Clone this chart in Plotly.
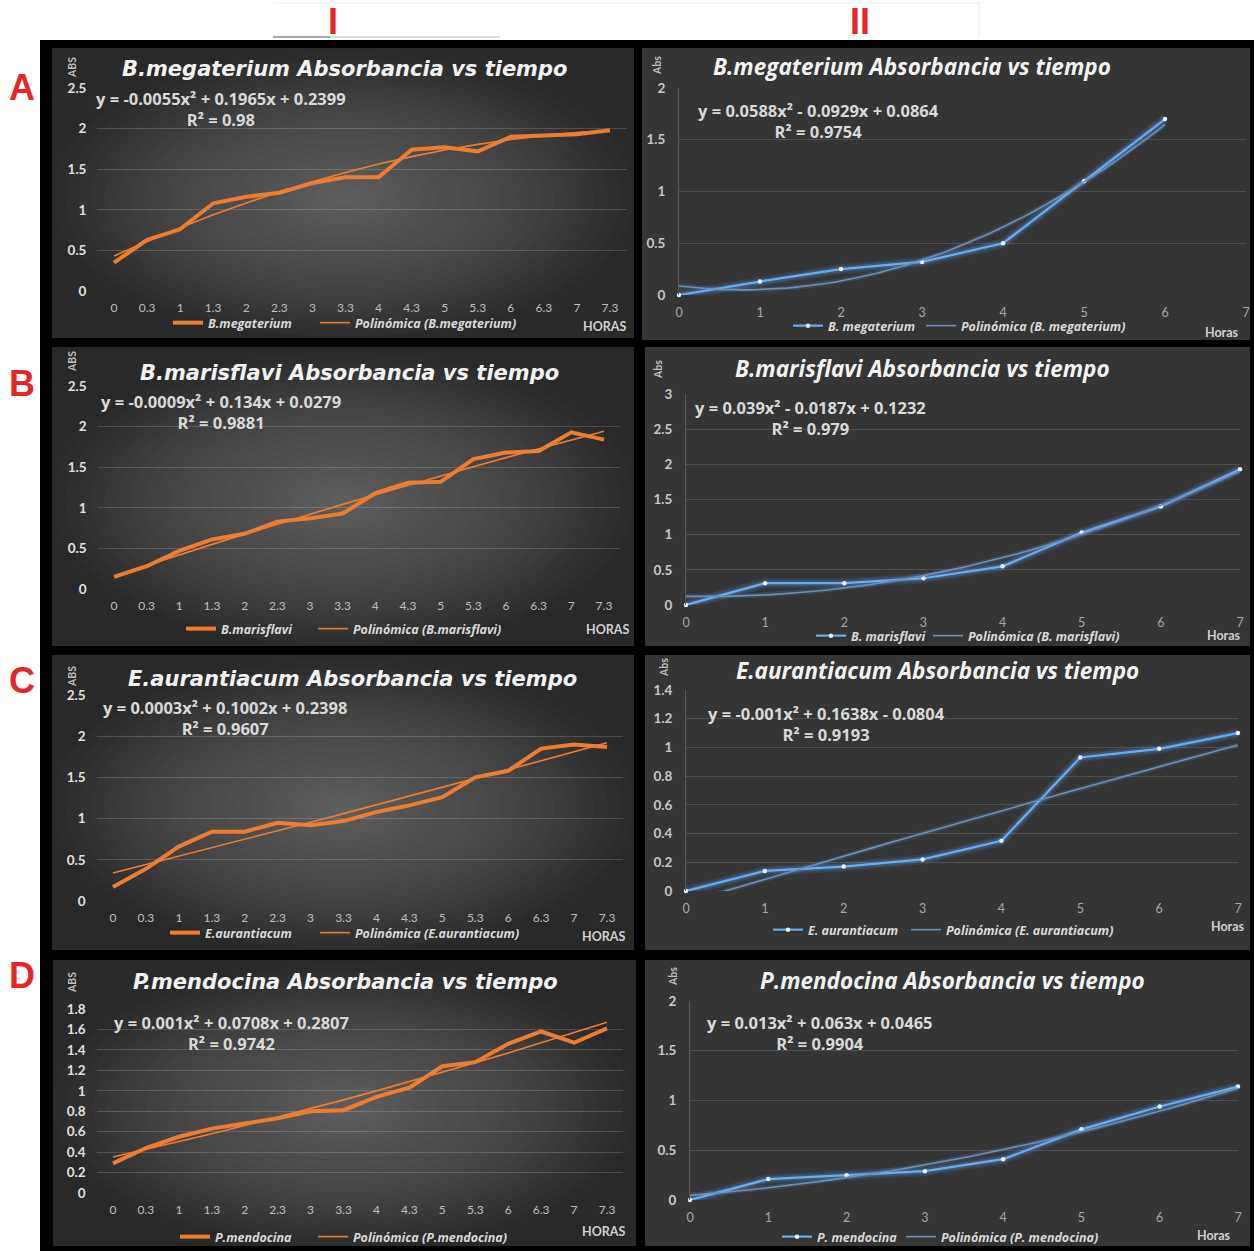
import numpy as np
import plotly.graph_objects as go

W, H = 1254, 1251

# ---------------- data ----------------
horas_cat = ["0", "0.3", "1", "1.3", "2", "2.3", "3", "3.3", "4", "4.3", "5", "5.3", "6", "6.3", "7", "7.3"]

megaterium_I = [0.35, 0.63, 0.76, 1.08, 1.16, 1.21, 1.33, 1.40, 1.40, 1.74, 1.77, 1.72, 1.90, 1.92, 1.93, 1.98]
marisflavi_I = [0.15, 0.28, 0.47, 0.61, 0.68, 0.83, 0.87, 0.93, 1.18, 1.31, 1.32, 1.60, 1.68, 1.70, 1.93, 1.84]
aurantiacum_I = [0.17, 0.39, 0.66, 0.84, 0.84, 0.95, 0.92, 0.97, 1.08, 1.16, 1.26, 1.50, 1.58, 1.85, 1.90, 1.87]
mendocina_I = [0.29, 0.44, 0.55, 0.63, 0.68, 0.73, 0.80, 0.81, 0.94, 1.03, 1.24, 1.28, 1.46, 1.58, 1.47, 1.61]

fit_megaterium_I = [-0.0055, 0.1965, 0.2399]
fit_marisflavi_I = [-0.0009, 0.134, 0.0279]
fit_aurantiacum_I = [0.0003, 0.1002, 0.2398]
fit_mendocina_I = [0.001, 0.0708, 0.2807]

horas_II = [0, 1, 2, 3, 4, 5, 6, 7]
megaterium_II = [0.0, 0.13, 0.25, 0.32, 0.50, 1.10, 1.70]
marisflavi_II = [0.0, 0.31, 0.31, 0.38, 0.55, 1.03, 1.40, 1.93]
aurantiacum_II = [0.0, 0.14, 0.17, 0.22, 0.35, 0.93, 0.99, 1.10]
mendocina_II = [0.0, 0.21, 0.25, 0.29, 0.41, 0.71, 0.94, 1.14]

fit_megaterium_II = [0.0588, -0.0929, 0.0864]
fit_marisflavi_II = [0.039, -0.0187, 0.1232]
fit_aurantiacum_II = [-0.001, 0.1638, -0.0804]
fit_mendocina_II = [0.013, 0.063, 0.0465]

eq_texts = [
    "y = -0.0055x² + 0.1965x + 0.2399", "y = 0.0588x² - 0.0929x + 0.0864",
    "y = -0.0009x² + 0.134x + 0.0279", "y = 0.039x² - 0.0187x + 0.1232",
    "y = 0.0003x² + 0.1002x + 0.2398", "y = -0.001x² + 0.1638x - 0.0804",
    "y = 0.001x² + 0.0708x + 0.2807", "y = 0.013x² + 0.063x + 0.0465",
]
r2_texts = ["R² = 0.98", "R² = 0.9754", "R² = 0.9881", "R² = 0.979",
            "R² = 0.9607", "R² = 0.9193", "R² = 0.9742", "R² = 0.9904"]
titles = [
    "B.megaterium Absorbancia vs tiempo", "B.megaterium Absorbancia vs tiempo",
    "B.marisflavi Absorbancia vs tiempo", "B.marisflavi Absorbancia vs tiempo",
    "E.aurantiacum Absorbancia vs tiempo", "E.aurantiacum Absorbancia vs tiempo",
    "P.mendocina Absorbancia vs tiempo", "P.mendocina Absorbancia vs tiempo",
]
names_I = ["B.megaterium", "B.marisflavi", "E.aurantiacum", "P.mendocina"]
names_II = ["B. megaterium", "B. marisflavi", "E. aurantiacum", "P. mendocina"]
row_letters = ["A", "B", "C", "D"]
col_labels = ["I", "II"]

series_I = [megaterium_I, marisflavi_I, aurantiacum_I, mendocina_I]
fits_I = [fit_megaterium_I, fit_marisflavi_I, fit_aurantiacum_I, fit_mendocina_I]
series_II = [megaterium_II, marisflavi_II, aurantiacum_II, mendocina_II]
fits_II = [fit_megaterium_II, fit_marisflavi_II, fit_aurantiacum_II, fit_mendocina_II]

# ---------------- layout geometry (pixels) ----------------
def fx(px):
    return px / W

def fy(py):
    return 1 - py / H

left_cfg = [
    dict(bg=(52, 48, 634, 338), x0=114, x1=610, y0=291, yt=88, yr=[0, 2.5], dt=0.5,
         title=(344, 69), eq=(221, 99), r2=119, abs=(72, 68), horas=(604, 326), leg=(170, 323), ew=147),
    dict(bg=(52, 347, 634, 646), x0=114, x1=604, y0=589, yt=386, yr=[0, 2.5], dt=0.5,
         title=(349, 373), eq=(221, 402), r2=422, abs=(72, 362), horas=(607, 629), leg=(183, 629), ew=132),
    dict(bg=(52, 655, 634, 950), x0=113, x1=607, y0=901, yt=695, yr=[0, 2.5], dt=0.5,
         title=(352, 679), eq=(225, 707), r2=728, abs=(72, 677), horas=(603, 936), leg=(167, 933), ew=150),
    dict(bg=(53, 960, 636, 1246), x0=113, x1=607, y0=1193, yt=1009, yr=[0, 1.8], dt=0.2,
         title=(345, 982), eq=(231, 1022), r2=1043, abs=(72, 983), horas=(603, 1231), leg=(177, 1237), ew=138),
]
right_cfg = [
    dict(bg=(642, 48, 1250, 340), x0=679, x1=1246, y0=295, yt=88, yr=[0, 2], dt=0.5,
         title=(912, 66), eq=(818, 111), r2=131, abs=(657, 66), horas=(1222, 332), leg=(790, 326), ew=133),
    dict(bg=(645, 347, 1250, 646), x0=686, x1=1240, y0=605, yt=394, yr=[0, 3], dt=0.5,
         title=(922, 369), eq=(811, 408), r2=429, abs=(658, 370), horas=(1224, 635), leg=(813, 636), ew=117),
    dict(bg=(645, 655, 1250, 950), x0=686, x1=1238, y0=891, yt=690, yr=[0, 1.4], dt=0.2,
         title=(937, 670), eq=(826, 713), r2=734, abs=(664, 667), horas=(1228, 926), leg=(770, 930), ew=138),
    dict(bg=(645, 960, 1250, 1246), x0=690, x1=1238, y0=1200, yt=1001, yr=[0, 2], dt=0.5,
         title=(952, 980), eq=(820, 1022), r2=1043, abs=(673, 977), horas=(1214, 1235), leg=(779, 1237), ew=124),
]

ORANGE = "#ED7D31"
BLUE = "#6aaef0"
FONT = "Lato"
WIDE = "Open Sans"

fig = go.Figure()
shapes = []
annotations = []
layout_axes = {}
legends = {}

# black frame
shapes.append(dict(type="rect", xref="paper", yref="paper", x0=fx(40), x1=fx(1254), y0=fy(1251), y1=fy(40),
                   fillcolor="#000000", line=dict(width=0), layer="below"))
# header lines
shapes.append(dict(type="line", xref="paper", yref="paper", x0=fx(274), x1=fx(980), y0=fy(3), y1=fy(3),
                   line=dict(color="#ececec", width=1), layer="below"))
shapes.append(dict(type="line", xref="paper", yref="paper", x0=fx(979), x1=fx(979), y0=fy(3), y1=fy(37),
                   line=dict(color="#ececec", width=1), layer="below"))
shapes.append(dict(type="line", xref="paper", yref="paper", x0=fx(273), x1=fx(330), y0=fy(37), y1=fy(37),
                   line=dict(color="#8a8a8a", width=1.5), layer="below"))
shapes.append(dict(type="line", xref="paper", yref="paper", x0=fx(330), x1=fx(500), y0=fy(37), y1=fy(37),
                   line=dict(color="#d0d0d0", width=1.5), layer="below"))


def legend_style(xpx, ypx):
    return dict(x=fx(xpx - 2), y=fy(ypx), xanchor="left", yanchor="middle", visible=True,
                orientation="h", bgcolor="rgba(0,0,0,0)", borderwidth=0, itemwidth=30,
                font=dict(family=WIDE, size=12.5, color="#d9d9d9", weight="bold", style="italic"))


panel_index = 0
for r in range(4):
    for c in range(2):
        panel_index += 1
        i = panel_index
        cfg = left_cfg[r] if c == 0 else right_cfg[r]
        xa = "xaxis" if i == 1 else f"xaxis{i}"
        ya = "yaxis" if i == 1 else f"yaxis{i}"
        xr = "x" if i == 1 else f"x{i}"
        yr = "y" if i == 1 else f"y{i}"
        n1 = 2 * i - 1
        n2 = 2 * i
        lg1 = "legend" if n1 == 1 else f"legend{n1}"
        lg2 = f"legend{n2}"
        bx0, by0, bx1, by1 = cfg["bg"]

        if c == 0:
            # radial-looking gradient background
            shapes.append(dict(type="rect", xref="paper", yref="paper", x0=fx(bx0), x1=fx(bx1),
                               y0=fy(by1), y1=fy(by0), fillcolor="#292929", line=dict(width=0), layer="below"))
            cx, cy = (bx0 + bx1) / 2, (by0 + by1) / 2 + 5
            hw, hh = (bx1 - bx0) / 2 * 1.0, (by1 - by0) / 2 * 1.0
            n = 22
            for k in range(n):
                f = 1 - k / n
                shapes.append(dict(type="circle", xref="paper", yref="paper",
                                   x0=fx(cx - hw * f), x1=fx(cx + hw * f),
                                   y0=fy(min(by1, cy + hh * f)), y1=fy(max(by0, cy - hh * f)),
                                   fillcolor="rgba(255,255,255,0.015)", line=dict(width=0), layer="below"))
            sp = (cfg["x1"] - cfg["x0"]) / 15
            xdom = [fx(cfg["x0"] - sp / 2), fx(cfg["x1"] + sp / 2)]
        else:
            shapes.append(dict(type="rect", xref="paper", yref="paper", x0=fx(bx0), x1=fx(bx1),
                               y0=fy(by1), y1=fy(by0), fillcolor="#353535", line=dict(width=0), layer="below"))
            xdom = [fx(cfg["x0"]), fx(cfg["x1"])]
        ydom = [fy(cfg["y0"]), fy(cfg["yt"])]

        if c == 0:
            layout_axes[xa] = dict(domain=xdom, anchor=yr, type="category", range=[-0.5, 15.5],
                                   showgrid=False, zeroline=False, showline=False, ticks="",
                                   ticklabelstandoff=8,
                                   tickfont=dict(family=FONT, size=12, color="#bfbfbf"))
            layout_axes[ya] = dict(domain=ydom, anchor=xr, range=cfg["yr"], dtick=cfg["dt"],
                                   showgrid=True, gridcolor="rgba(255,255,255,0.16)", gridwidth=1,
                                   zeroline=False, showline=False, ticks="", ticklabelstandoff=10,
                                   tickfont=dict(family=FONT, size=13.5, color="#e0e0e0", weight="bold"))
            ys = series_I[r]
            a2, a1, a0 = fits_I[r]
            idx = np.arange(1, len(horas_cat) + 1)
            trend = a2 * idx ** 2 + a1 * idx + a0
            fig.add_trace(go.Scatter(x=horas_cat, y=ys, mode="lines", name=names_I[r], showlegend=True,
                                     line=dict(color=ORANGE, width=4), xaxis=xr, yaxis=yr, legend=lg1))
            fig.add_trace(go.Scatter(x=horas_cat, y=trend, mode="lines", showlegend=True,
                                     name=f"Polinómica ({names_I[r]})",
                                     line=dict(color=ORANGE, width=1.6), xaxis=xr, yaxis=yr, legend=lg2))
            title_font = dict(family="DejaVu Sans", size=21, color="#f2f2f2", weight="bold", style="italic")
            ylab, xlab = "ABS", "HORAS"
        else:
            layout_axes[xa] = dict(domain=xdom, anchor=yr, range=[0, 7], dtick=1,
                                   showgrid=False, zeroline=False, showline=False, ticks="",
                                   ticklabelstandoff=8,
                                   tickfont=dict(family=FONT, size=12.5, color="#a6a6a6"))
            layout_axes[ya] = dict(domain=ydom, anchor=xr, range=cfg["yr"], dtick=cfg["dt"],
                                   showgrid=True, gridcolor="#4f4f4f", gridwidth=1,
                                   zeroline=False, showline=True, linecolor="#5a5a5a", linewidth=1,
                                   ticks="", ticklabelstandoff=10,
                                   tickfont=dict(family=FONT, size=13.5, color="#c8c8c8", weight="bold"))
            ys = series_II[r]
            xs = horas_II[:len(ys)]
            a2, a1, a0 = fits_II[r]
            tx = np.linspace(0, xs[-1], 60)
            trend = a2 * tx ** 2 + a1 * tx + a0
            # glow layers
            for wdt, op in [(10, 0.12), (6, 0.22)]:
                fig.add_trace(go.Scatter(x=xs, y=ys, mode="lines", showlegend=False, hoverinfo="skip",
                                         line=dict(color=f"rgba(90,160,240,{op})", width=wdt),
                                         xaxis=xr, yaxis=yr, cliponaxis=False, legend=lg1))
            fig.add_trace(go.Scatter(x=tx, y=trend, mode="lines", showlegend=False, hoverinfo="skip",
                                     line=dict(color="rgba(90,150,220,0.18)", width=5),
                                     xaxis=xr, yaxis=yr, legend=lg2))
            fig.add_trace(go.Scatter(x=xs, y=ys, mode="lines+markers", name=names_II[r], showlegend=True,
                                     line=dict(color=BLUE, width=2.2),
                                     marker=dict(color="#e6f1fc", size=4.5, line=dict(width=0)),
                                     xaxis=xr, yaxis=yr, cliponaxis=False, legend=lg1))
            fig.add_trace(go.Scatter(x=tx, y=trend, mode="lines", showlegend=True,
                                     name=f"Polinómica ({names_II[r]})",
                                     line=dict(color="#6f8fb5", width=1.6), xaxis=xr, yaxis=yr, legend=lg2))
            title_font = dict(family=WIDE, size=22.5, color="#f2f2f2", weight="bold", style="italic")
            ylab, xlab = "Abs", "Horas"

        legends[lg1] = legend_style(cfg["leg"][0], cfg["leg"][1])
        legends[lg2] = legend_style(cfg["leg"][0] + cfg["ew"], cfg["leg"][1])

        annotations.append(dict(text=titles[i - 1], x=fx(cfg["title"][0]), y=fy(cfg["title"][1]),
                                xref="paper", yref="paper", xanchor="center", yanchor="middle",
                                showarrow=False, font=title_font))
        annotations.append(dict(text=eq_texts[i - 1] + "<br>" + r2_texts[i - 1],
                                x=fx(cfg["eq"][0]), y=fy((cfg["eq"][1] + cfg["r2"]) / 2),
                                xref="paper", yref="paper", xanchor="center", yanchor="middle", align="center",
                                showarrow=False, font=dict(family=WIDE, size=16.5, color="#d9d9d9", weight="bold")))
        annotations.append(dict(text=ylab, x=fx(cfg["abs"][0]), y=fy(cfg["abs"][1]), textangle=-90,
                                xref="paper", yref="paper", xanchor="center", yanchor="middle",
                                showarrow=False, font=dict(family=FONT, size=10.5, color="#bfbfbf", weight="bold")))
        annotations.append(dict(text=xlab, x=fx(cfg["horas"][0]), y=fy(cfg["horas"][1]),
                                xref="paper", yref="paper", xanchor="center", yanchor="middle",
                                showarrow=False, font=dict(family=FONT, size=12.5, color="#d0d0d0", weight="bold")))

# row letters and column labels
letter_y = [88, 383, 680, 975]
for k, L in enumerate(row_letters):
    annotations.append(dict(text=L, x=fx(22), y=fy(letter_y[k]), xref="paper", yref="paper",
                            xanchor="center", yanchor="middle", showarrow=False,
                            font=dict(family="Liberation Sans", size=36, color="#e3262a", weight="bold")))
for k, (L, xp) in enumerate(zip(col_labels, [333, 860])):
    annotations.append(dict(text=L, x=fx(xp), y=fy(22), xref="paper", yref="paper",
                            xanchor="center", yanchor="middle", showarrow=False,
                            font=dict(family="Liberation Sans", size=36, color="#e3262a", weight="bold")))

fig.update_layout(
    width=W, height=H, margin=dict(l=0, r=0, t=0, b=0, autoexpand=False),
    paper_bgcolor="#ffffff", plot_bgcolor="rgba(0,0,0,0)", showlegend=True,
    shapes=shapes, annotations=annotations, hovermode=False,
    **layout_axes, **legends,
)

fig.write_html("out.html")
